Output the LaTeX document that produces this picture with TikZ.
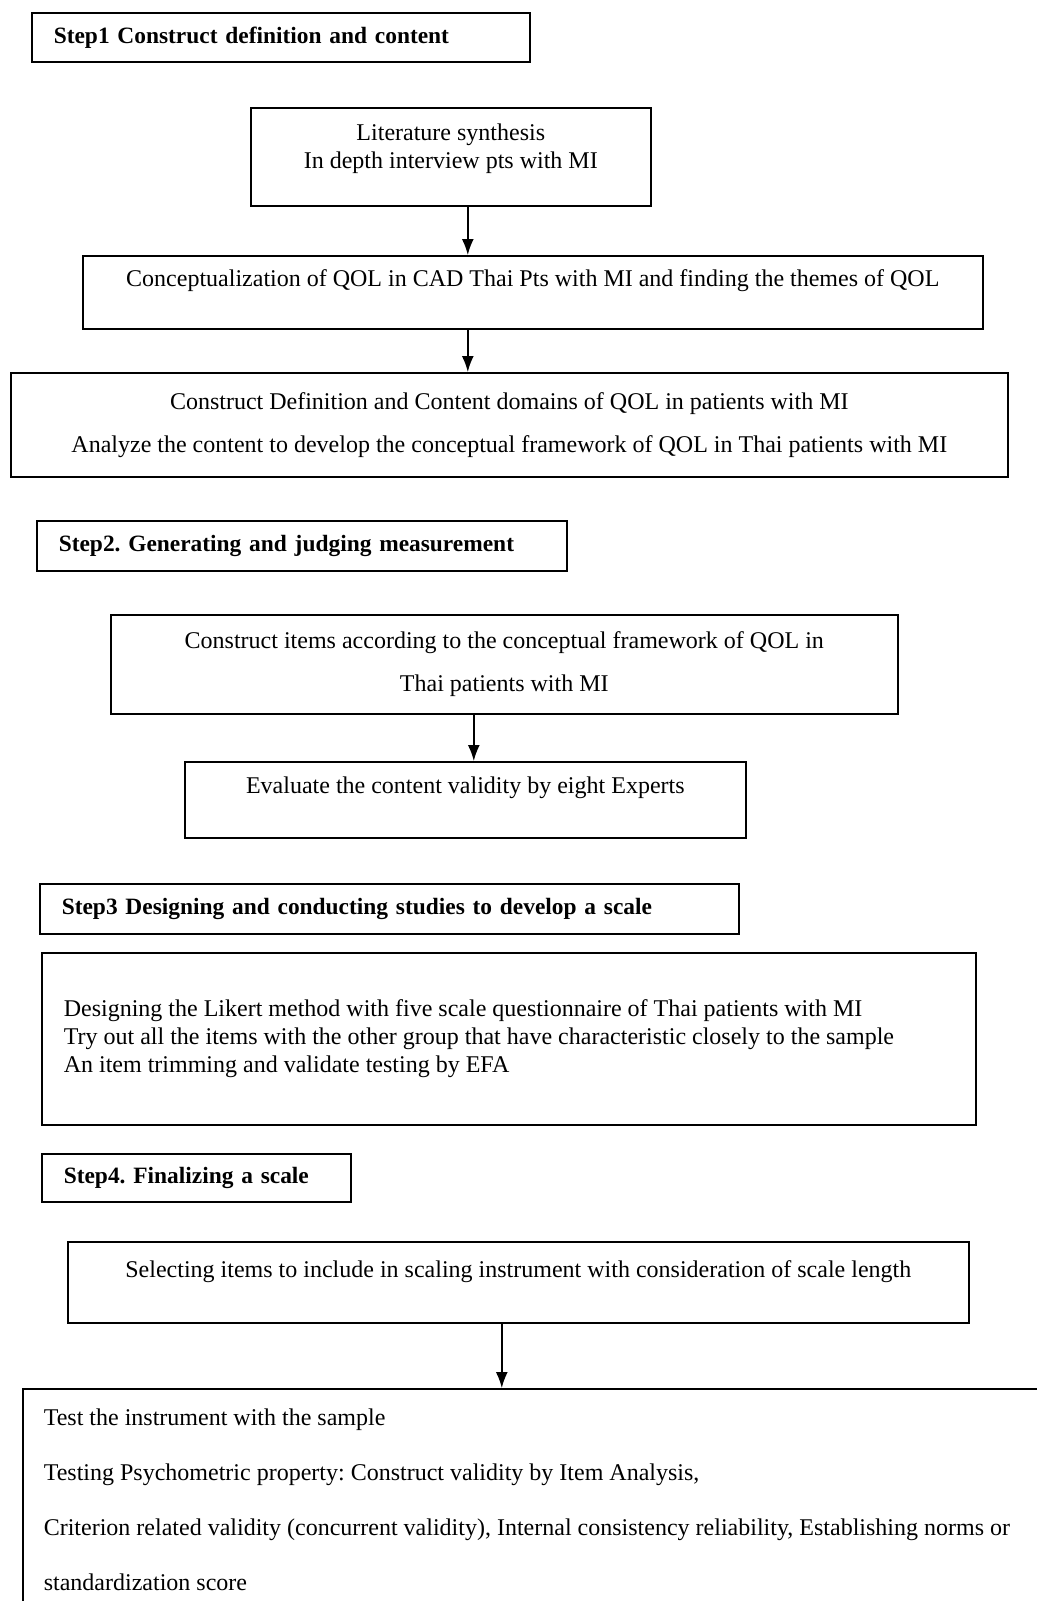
\documentclass[tikz,border=0pt]{standalone}
\usepackage{fontspec}
\setmainfont{Liberation Serif}
\usetikzlibrary{arrows.meta}
\frenchspacing

\begin{document}
\begin{tikzpicture}[x=0.5pt, y=-0.5pt, >={Latex[length=8pt, width=6pt]}, line width=0.8pt,
    font=\fontsize{12}{14}\selectfont,
    box/.style={draw, anchor=north west, inner sep=3pt},
    stepbox/.style={draw, anchor=north west, align=left,
        font=\fontsize{11.7}{14}\selectfont\bfseries,
        inner xsep=11pt}
]
    \clip (0,0) rectangle (1037,1601);

    % step 1
    \node [stepbox,
        text width=227pt,
        minimum height=24.5pt
    ] (step1) at (31,12) {Step1 Construct definition and content};

    \node [box,
        minimum width=200pt,
        minimum height=49pt,
        text depth=25pt
    ] (literatura) at (250,107) {
        \begin{minipage}[t]{190pt}\centering
            Literature synthesis\\
            In depth interview pts with MI
        \end{minipage}
    };

    \node [box,
        minimum width=450pt,
        minimum height=36.5pt,
        text depth=14.6pt
    ] (conceito) at (82,255) {Conceptualization of QOL in CAD Thai Pts with MI and finding the themes of QOL};

    \node [box,
        minimum width=498.5pt,
        minimum height=52pt
    ] (definicao) at (10,372) {
        \begin{minipage}{480pt}\centering
            Construct Definition and Content domains of QOL in patients with MI\\[7.5pt]
            Analyze the content to develop the conceptual framework of QOL in Thai patients with MI
        \end{minipage}
    };

    % step 2
    \node [stepbox,
        text width=243pt,
        minimum height=25pt
    ] (step2) at (36,520) {Step2. Generating and judging measurement};

    \node [box,
        minimum width=393.5pt,
        minimum height=49.5pt
    ] (itens) at (110,614) {
        \begin{minipage}{380pt}\centering
            Construct items according to the conceptual framework of QOL in\\[7.5pt]
            Thai patients with MI
        \end{minipage}
    };

    \node [box,
        minimum width=280.5pt,
        minimum height=38pt,
        text depth=14.6pt
    ] (avaliacao) at (184,761) {Evaluate the content validity by eight Experts};

    % step 3
    \node [stepbox,
        text width=327.5pt,
        minimum height=25pt
    ] (step3) at (39,883) {Step3 Designing and conducting studies to develop a scale};

    \node [box,
        inner xsep=11pt,
        minimum width=467pt,
        minimum height=86pt
    ] (desenho) at (41,952) {
        \begin{minipage}{445pt}
            Designing the Likert method with five scale questionnaire of Thai patients with MI\\
            Try out all the items with the other group that have characteristic closely to the sample\\
            An item trimming and validate testing by EFA
        \end{minipage}
    };

    % step 4
    \node [stepbox,
        text width=132.5pt,
        minimum height=24pt
    ] (step4) at (41,1153) {Step4. Finalizing a scale};

    \node [box,
        minimum width=450.5pt,
        minimum height=40.5pt,
        text depth=13.1pt
    ] (selecao) at (67,1241) {Selecting items to include in scaling instrument with consideration of scale length};

    \node [box,
        inner xsep=10.5pt,
        inner ysep=10pt
    ] (teste) at (22,1388) {
        \begin{minipage}[t]{500pt}
            Test the instrument with the sample\\[13.5pt]
            Testing Psychometric property: Construct validity by Item Analysis,\\[13.5pt]
            Criterion related validity (concurrent validity), Internal consistency reliability, Establishing norms or\\[13.5pt]
            standardization score
        \end{minipage}
    };

    % arrows
    \coordinate (j1) at ([xshift=8.5pt]literatura.south);
    \coordinate (j2) at ([xshift=4.25pt]avaliacao.north);
    \coordinate (j3) at ([xshift=-8.25pt]selecao.south);
    \draw [->] (j1) -- (j1 |- conceito.north);
    \draw [->] (j1 |- conceito.south) -- (j1 |- definicao.north);
    \draw [->] (j2 |- itens.south) -- (j2);
    \draw [->] (j3) -- (j3 |- teste.north);

\end{tikzpicture}
\end{document}
